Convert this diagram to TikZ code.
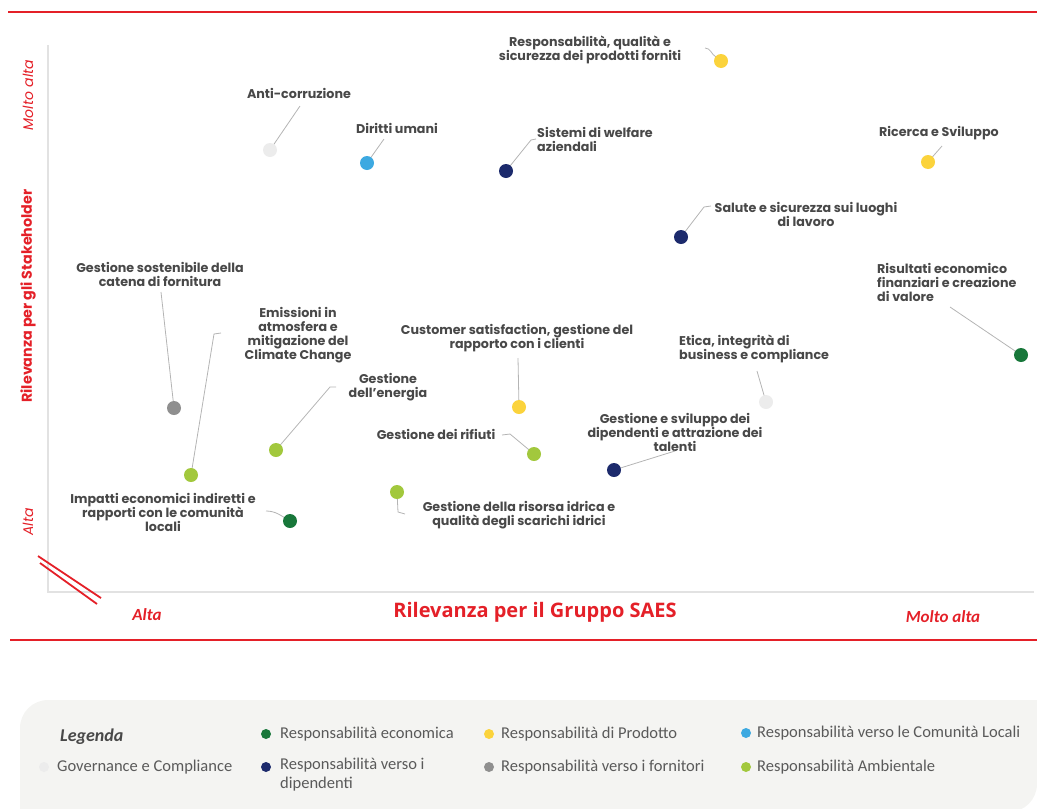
\documentclass[tikz,border=0pt]{standalone}
\usepackage{fontspec}
\setmainfont{Poppins}
\newfontfamily\legfont{Carlito}
\newfontfamily\assefont{Open Sans}
\usetikzlibrary{positioning}

\definecolor{saesred}{HTML}{E42028}
\definecolor{ecogreen}{HTML}{18773A}
\definecolor{prodyellow}{HTML}{FBD33C}
\definecolor{comblue}{HTML}{3DA9E1}
\definecolor{govgray}{HTML}{ECECEC}
\definecolor{dipnavy}{HTML}{1C2A6C}
\definecolor{forngray}{HTML}{8F8F8F}
\definecolor{ambgreen}{HTML}{A2C83D}
\definecolor{labgray}{HTML}{484848}
\definecolor{legtext}{HTML}{5A5A5A}
\definecolor{leggray}{HTML}{F4F4F2}
\definecolor{linkgray}{HTML}{B4B4B4}
\definecolor{axisgray}{HTML}{E2E2E2}

\begin{document}
\begin{tikzpicture}[x=1pt, y=-1pt,
	dot/.style={circle, fill, inner sep=0pt, minimum size=14pt},
	key/.style={circle, fill, inner sep=0pt, minimum size=10pt},
	tema/.style={font=\fontsize{12.7}{14}\selectfont\bfseries, text=labgray, align=center, inner sep=0pt},
	voce/.style={font=\legfont\fontsize{16.5}{19}\selectfont, text=legtext, align=left, anchor=west, inner sep=0pt},
	link/.style={draw=linkgray, line width=0.8pt},
	asse/.style={draw=axisgray, line width=1.2pt},
	bordo/.style={draw=saesred, line width=2.2pt},
	livello/.style={font=\legfont\fontsize{17}{17}\selectfont\bfseries\itshape, text=saesred, inner sep=0pt},
	verticale/.style={font=\fontsize{14}{14}\selectfont\itshape, text=saesred, rotate=90, inner sep=0pt}]
	\useasboundingbox (0,0) rectangle (1037,809);

	\draw[bordo] (8,12) -- (1037,12);
	\draw[bordo] (10,640) -- (1037,640);
	\draw[asse] (48,45) -- (48,592) -- (1034,592);
	\draw[bordo, line width=1.8pt] (38,556) -- (101,598);
	\draw[bordo, line width=1.8pt] (40,563) -- (97,604);

	\node[livello] (xlow) at (147,615) {Alta};
	\node[font=\assefont\fontsize{20}{20}\selectfont\bfseries, text=saesred, inner sep=0pt] (xtitle) at (535,612) {Rilevanza per il Gruppo SAES};
	\node[livello] (xhigh) at (943,617) {Molto alta};
	\node[verticale] (yhigh) at (28,95) {Molto alta};
	\node[font=\fontsize{14.3}{14.3}\selectfont\bfseries, text=saesred, rotate=90, inner sep=0pt] (ytitle) at (28,296) {Rilevanza per gli Stakeholder};
	\node[verticale] (ylow) at (28,522) {Alta};

	\node[tema] (prodL) at (590,50) {Responsabilità, qualità e\\sicurezza dei prodotti forniti};
	\node[tema] (antiL) at (299,93) {Anti-corruzione};
	\node[tema] (dirittiL) at (397,128) {Diritti umani};
	\node[tema, align=left, anchor=west] (welfL) at (537,139) {Sistemi di welfare\\aziendali};
	\node[tema] (ricercaL) at (939,133) {Ricerca e Sviluppo};
	\node[tema] (saluteL) at (806,214) {Salute e sicurezza sui luoghi\\di lavoro};
	\node[tema, align=left, anchor=west] (risultatiL) at (877,282) {Risultati economico\\finanziari e creazione\\di valore};
	\node[tema] (catenaL) at (160,274) {Gestione sostenibile della\\catena di fornitura};
	\node[tema] (emissioniL) at (298,335) {Emissioni in\\atmosfera e\\mitigazione del\\Climate Change};
	\node[tema] (customerL) at (517,338) {Customer satisfaction, gestione del\\rapporto con i clienti};
	\node[tema, align=left, anchor=west] (eticaL) at (679,349) {Etica, integrità di\\business e compliance};
	\node[tema] (energiaL) at (388,387) {Gestione\\dell’energia};
	\node[tema] (rifiutiL) at (436,434) {Gestione dei rifiuti};
	\node[tema] (talentiL) at (675,432) {Gestione e sviluppo dei\\dipendenti e attrazione dei\\talenti};
	\node[tema] (impattiL) at (163,512) {Impatti economici indiretti e\\rapporti con le comunità\\locali};
	\node[tema] (idricaL) at (519,515) {Gestione della risorsa idrica e\\qualità degli scarichi idrici};

	\coordinate (prodC) at (705,48);
	\coordinate (antiC) at (300,106);
	\coordinate (dirittiC) at (384,139);
	\coordinate (welfC) at (531,140);
	\coordinate (ricercaC) at (942,146);
	\coordinate (saluteC) at (704,207);
	\coordinate (risultatiC) at (950,307);
	\coordinate (catenaC) at (161,292);
	\coordinate (emissioniC) at (214,334);
	\coordinate (customerC) at (518,358);
	\coordinate (eticaC) at (757,371);
	\coordinate (energiaC) at (330,387);
	\coordinate (rifiutiC) at (510,434);
	\coordinate (talentiC) at (675,451);
	\coordinate (impattiC) at (266,511);
	\coordinate (idricaC) at (398,512);

	\draw[link] (prodC) to[out=0, in=150] (716,57);
	\draw[link] (antiC) -- (270,150);
	\draw[link] (dirittiC) -- (367,163);
	\draw[link] (536,139) -- (welfC) -- (506,171);
	\draw[link] (ricercaC) -- (928,162);
	\draw[link] (711,206) -- (saluteC) -- (681,237);
	\draw[link] (risultatiC) -- (1021,355);
	\draw[link] (catenaC) -- (174,408);
	\draw[link] (221,333) -- (emissioniC) -- (191,475);
	\draw[link] (customerC) -- (519,407);
	\draw[link] (eticaC) -- (766,402);
	\draw[link] (336,387) -- (energiaC) -- (276,450);
	\draw[link] (502,435) -- (rifiutiC) -- (534,454);
	\draw[link] (talentiC) -- (614,470);
	\draw[link] (impattiC) to[out=0, in=150] (290,521);
	\draw[link] (397,492) -- (idricaC) -- (405,514);

	\node[dot, prodyellow] (prod) at (721,61) {};
	\node[dot, govgray] (anti) at (270,150) {};
	\node[dot, comblue] (diritti) at (367,163) {};
	\node[dot, dipnavy] (welf) at (506,171) {};
	\node[dot, prodyellow] (ricerca) at (928,162) {};
	\node[dot, dipnavy] (salute) at (681,237) {};
	\node[dot, ecogreen] (risultati) at (1021,355) {};
	\node[dot, forngray] (catena) at (174,408) {};
	\node[dot, ambgreen] (emissioni) at (191,475) {};
	\node[dot, prodyellow] (customer) at (519,407) {};
	\node[dot, govgray] (etica) at (766,402) {};
	\node[dot, ambgreen] (energia) at (276,450) {};
	\node[dot, ambgreen] (rifiuti) at (534,454) {};
	\node[dot, dipnavy] (talenti) at (614,470) {};
	\node[dot, ecogreen] (impatti) at (290,521) {};
	\node[dot, ambgreen] (idrica) at (397,492) {};

	\fill[leggray] (20,812) [rounded corners=28pt] -- (20,700) [sharp corners] -- (1037,700) -- (1037,770) [rounded corners=28pt] -- (1037,812) [sharp corners] -- cycle;
	\node[font=\legfont\fontsize{18}{18}\selectfont\bfseries\itshape, text=labgray, anchor=west, inner sep=0pt] (legenda) at (60,737) {Legenda};
	\node[key, ecogreen] (kEco) at (266,734) {};
	\node[key, prodyellow] (kProd) at (489,734) {};
	\node[key, comblue] (kCom) at (746,733) {};
	\node[key, govgray] (kGov) at (44,767) {};
	\node[key, dipnavy] (kDip) at (266,767) {};
	\node[key, forngray] (kForn) at (489,767) {};
	\node[key, ambgreen] (kAmb) at (746,767) {};
	\node[voce] at (280,734) {Responsabilità economica};
	\node[voce] at (501,734) {Responsabilità di Prodotto};
	\node[voce] at (757,733) {Responsabilità verso le Comunità Locali};
	\node[voce] at (57,767) {Governance e Compliance};
	\node[voce, anchor=north west] at (280,758) {Responsabilità verso i\\dipendenti};
	\node[voce] at (501,767) {Responsabilità verso i fornitori};
	\node[voce] at (757,767) {Responsabilità Ambientale};
\end{tikzpicture}
\end{document}
